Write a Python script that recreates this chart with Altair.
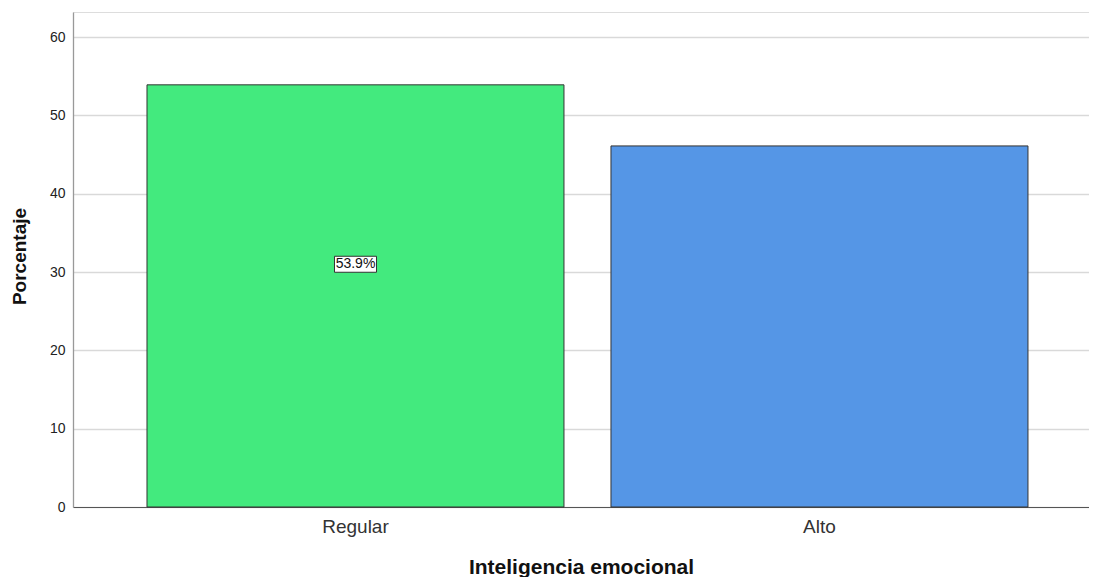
import altair as alt
import pandas as pd

categories = ["Regular", "Alto"]
percentages = [53.9, 46.1]
colors = ["#43EA7E", "#5596E6"]
label_text = ["53.9%", ""]

df = pd.DataFrame({"cat": categories, "pct": percentages, "color": colors, "label": label_text})

FONT = "Liberation Sans"

x_enc = alt.X(
    "cat:N",
    sort=categories,
    scale=alt.Scale(paddingInner=0.1013, paddingOuter=0.1455, align=0.548),
    axis=alt.Axis(
        title="Inteligencia emocional",
        labelAngle=0,
        labelFont=FONT,
        labelFontSize=19,
        labelColor="#333333",
        labelPadding=10,
        ticks=False,
        domainColor="#555555",
        domainWidth=1,
        titleFont=FONT,
        titleFontSize=21,
        titleFontWeight="bold",
        titleColor="#111111",
        titleBaseline="alphabetic",
        titleY=66,
    ),
)

y_scale = alt.Scale(domain=[0, 63.2], nice=False)

bars = alt.Chart(df).mark_bar(stroke="#333333", strokeWidth=1).encode(
    x=x_enc,
    y=alt.Y(
        "pct:Q",
        scale=y_scale,
        axis=alt.Axis(
            title="Porcentaje",
            values=[0, 10, 20, 30, 40, 50, 60],
            ticks=False,
            labelFont=FONT,
            labelFontSize=14,
            labelColor="#222222",
            labelPadding=8,
            grid=True,
            gridColor="#d9d9d9",
            gridWidth=1.3,
            domainColor="#999999",
            domainWidth=1.3,
            titleFont=FONT,
            titleFontSize=19,
            titleFontWeight="bold",
            titleColor="#111111",
            titleBaseline="alphabetic",
            titleX=-48,
            titleY=244,
        ),
    ),
    color=alt.Color("color:N", scale=None, legend=None),
)

lab_df = df[df["label"] != ""]

box = alt.Chart(lab_df).transform_calculate(ly="datum.pct * 0.575").mark_point(
    shape="M-1,-0.381L1,-0.381L1,0.381L-1,0.381Z",
    size=1764,
    filled=True,
    fill="white",
    stroke="#333333",
    strokeWidth=1,
    opacity=1,
).encode(
    x=alt.X("cat:N", sort=categories),
    y=alt.Y("ly:Q", scale=y_scale),
)

txt = alt.Chart(lab_df).transform_calculate(ly="datum.pct * 0.575").mark_text(
    font=FONT, fontSize=14, color="#111111", baseline="middle", align="center"
).encode(
    x=alt.X("cat:N", sort=categories),
    y=alt.Y("ly:Q", scale=y_scale),
    text="label:N",
)

chart = (
    alt.layer(bars, box, txt)
    .properties(
        width=1016,
        height=495,
        autosize=alt.AutoSizeParams(type="none"),
        padding={"left": 65, "top": 4, "right": 0, "bottom": 70},
    )
    .configure_view(stroke=None)
    .configure(background="white")
)

chart.save("out.html", embed_options={"renderer": "svg", "actions": False})
